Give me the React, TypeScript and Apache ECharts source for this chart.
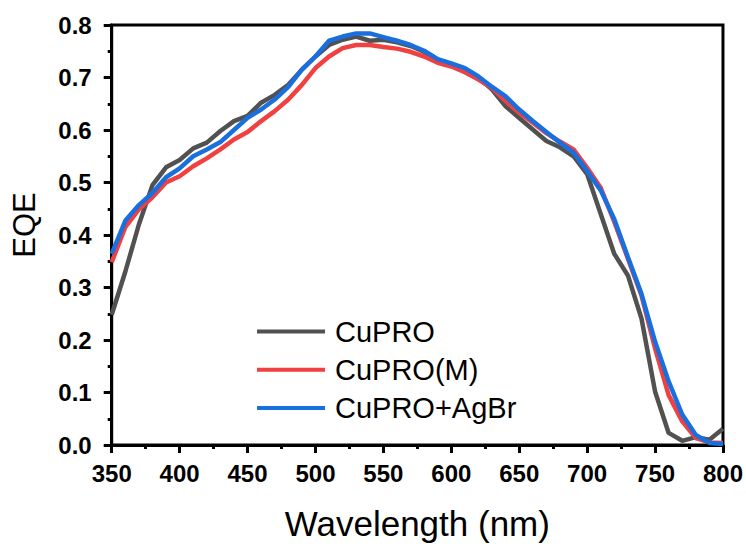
import React, { useEffect, useRef } from "react";
import * as echarts from "echarts";

const wavelengths = [350, 360, 370, 380, 390, 400, 410, 420, 430, 440, 450, 460, 470, 480, 490, 500, 510, 520, 530, 540, 550, 560, 570, 580, 590, 600, 610, 620, 630, 640, 650, 660, 670, 680, 690, 700, 710, 720, 730, 740, 750, 760, 770, 780, 790, 800];

const cupro = [0.248, 0.33, 0.42, 0.495, 0.529, 0.543, 0.565, 0.576, 0.598, 0.617, 0.627, 0.652, 0.667, 0.686, 0.715, 0.74, 0.762, 0.772, 0.778, 0.77, 0.772, 0.767, 0.76, 0.749, 0.733, 0.723, 0.714, 0.7, 0.677, 0.645, 0.623, 0.601, 0.579, 0.567, 0.55, 0.516, 0.44, 0.364, 0.323, 0.241, 0.102, 0.023, 0.008, 0.015, 0.01, 0.031];

const cuproM = [0.348, 0.415, 0.449, 0.472, 0.5, 0.512, 0.531, 0.546, 0.563, 0.582, 0.596, 0.617, 0.636, 0.658, 0.686, 0.718, 0.74, 0.756, 0.762, 0.762, 0.758, 0.755, 0.749, 0.74, 0.728, 0.721, 0.71, 0.696, 0.68, 0.655, 0.633, 0.614, 0.594, 0.578, 0.563, 0.528, 0.49, 0.425, 0.355, 0.285, 0.184, 0.095, 0.045, 0.013, 0.005, 0.004];

const cuproAgBr = [0.364, 0.427, 0.457, 0.48, 0.51, 0.527, 0.55, 0.563, 0.577, 0.6, 0.623, 0.639, 0.658, 0.682, 0.715, 0.74, 0.77, 0.778, 0.784, 0.784, 0.777, 0.77, 0.762, 0.751, 0.735, 0.727, 0.718, 0.702, 0.682, 0.664, 0.639, 0.617, 0.596, 0.576, 0.557, 0.522, 0.485, 0.43, 0.358, 0.288, 0.197, 0.121, 0.058, 0.019, 0.004, 0.002];

const seriesNames = ["CuPRO", "CuPRO(M)", "CuPRO+AgBr"];
const seriesColors = ["#515151", "#F14040", "#1A6FDF"];
const yAxisTitle = "EQE";
const xAxisTitle = "Wavelength (nm)";

const FONT = "Arial, 'Liberation Sans', sans-serif";

export default function App() {
  const ref = useRef<HTMLDivElement>(null);
  useEffect(() => {
    if (!ref.current) return;
    const chart = echarts.init(ref.current, null, { renderer: "svg" });
    const datasets = [cupro, cuproM, cuproAgBr];
    chart.setOption({
      animation: false,
      backgroundColor: "#ffffff",
      grid: {
        left: 111.7,
        right: 22.7,
        top: 25,
        bottom: 99,
        show: true,
        borderColor: "#000",
        borderWidth: 3,
      },
      graphic: [
        {
          type: "text",
          x: 24,
          y: 225,
          rotation: Math.PI / 2,
          style: {
            text: yAxisTitle,
            fontFamily: FONT,
            fontSize: 31,
            fill: "#000",
            align: "center",
            verticalAlign: "middle",
          },
        },
      ],
      legend: {
        orient: "vertical",
        left: 252,
        top: 312,
        itemWidth: 68,
        itemHeight: 4,
        itemGap: 9.3,
        icon: "rect",
        data: seriesNames,
        textStyle: {
          fontFamily: FONT,
          fontSize: 29,
          lineHeight: 29,
          color: "#000",
          padding: [0, 0, 0, 5],
        },
      },
      xAxis: {
        type: "value",
        min: 350,
        max: 800,
        interval: 50,
        name: xAxisTitle,
        nameLocation: "middle",
        nameGap: 61,
        nameTextStyle: { fontFamily: FONT, fontSize: 35, color: "#000" },
        axisLine: { show: true, lineStyle: { color: "#000", width: 3 } },
        axisTick: { show: true, inside: false, length: 8, lineStyle: { color: "#000", width: 3 } },
        minorTick: { show: true, splitNumber: 2, length: 4, lineStyle: { color: "#000", width: 3 } },
        splitLine: { show: false },
        axisLabel: {
          fontFamily: FONT,
          fontSize: 24,
          fontWeight: "bold",
          color: "#000",
          margin: 16,
        },
      },
      yAxis: {
        type: "value",
        min: 0,
        max: 0.8,
        interval: 0.1,
        axisLine: { show: true, lineStyle: { color: "#000", width: 3 } },
        axisTick: { show: true, inside: false, length: 8, lineStyle: { color: "#000", width: 3 } },
        minorTick: { show: true, splitNumber: 2, length: 4, lineStyle: { color: "#000", width: 3 } },
        splitLine: { show: false },
        axisLabel: {
          fontFamily: FONT,
          fontSize: 24,
          fontWeight: "bold",
          color: "#000",
          margin: 20,
          formatter: (v: number) => v.toFixed(1),
        },
      },
      series: datasets.map((d, i) => ({
        name: seriesNames[i],
        type: "line",
        data: wavelengths.map((w, j) => [w, d[j]]),
        showSymbol: false,
        symbol: "none",
        lineStyle: { color: seriesColors[i], width: 4.5 },
        itemStyle: { color: seriesColors[i] },
        z: 2 + i,
      })),
    });
    return () => chart.dispose();
  }, []);
  return (
    <div
      ref={ref}
      style={{ position: "fixed", left: 0, top: 0, width: 746, height: 546 }}
    />
  );
}
